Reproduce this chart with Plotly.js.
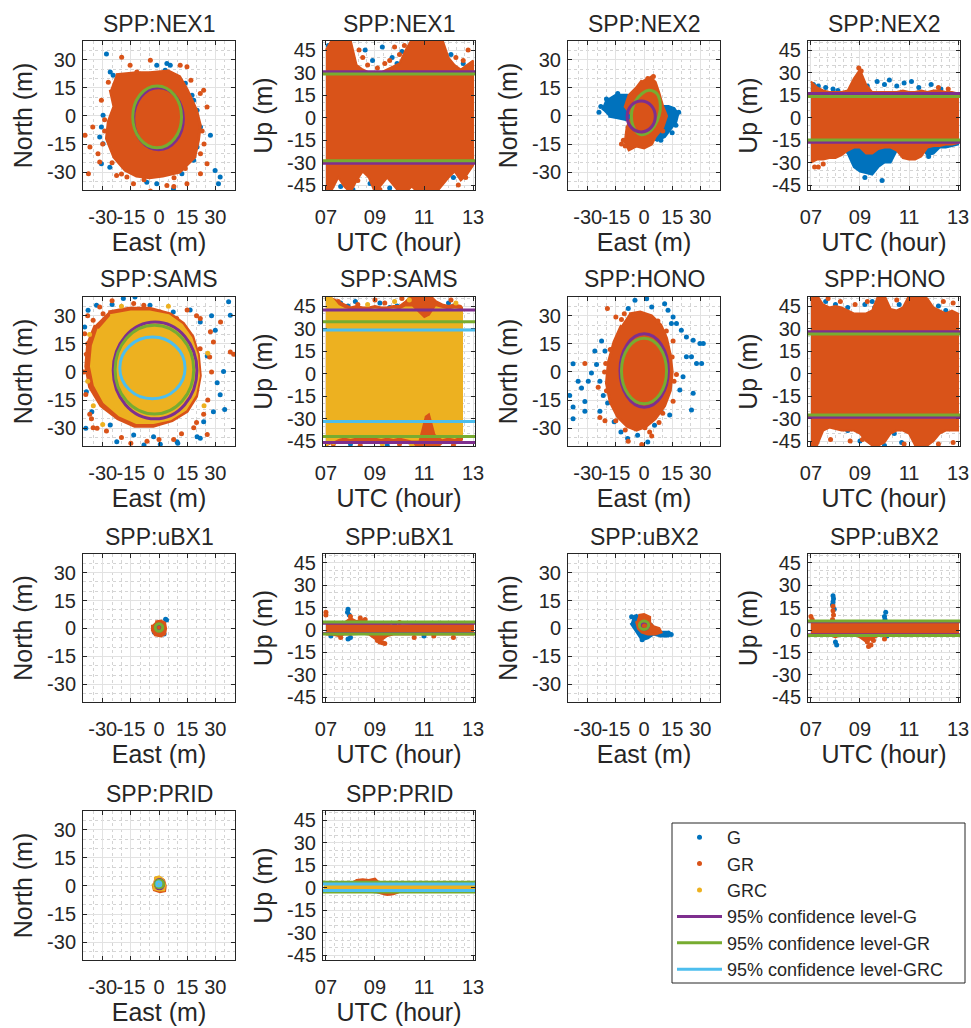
<!DOCTYPE html>
<html><head><meta charset="utf-8">
<script src="https://cdn.plot.ly/plotly-3.0.1.min.js"></script>
<style>html,body{margin:0;padding:0;background:#fff}#chart{width:971px;height:1028px}</style>
</head><body><div id="chart"></div>
<script>
// ================= DATA =================
const seriesNames = ['G','GR','GRC'];
const levelNames = {G:'95% confidence level-G', GR:'95% confidence level-GR', GRC:'95% confidence level-GRC'};
const enuTicks = [-30,-15,0,15,30];
const enuTickText = ['-30','-15','0','15','30'];
const upTicks = [-45,-30,-15,0,15,30,45];
const upTickText = ['-45','-30','-15','0','15','30','45'];
const hourTicks = [7,9,11,13];
const hourTickText = ['07','09','11','13'];
const HRS = [7,7.25,7.5,7.75,8,8.25,8.5,8.75,9,9.25,9.5,9.75,10,10.25,10.5,10.75,11,11.25,11.5,11.75,12,12.25,12.5,12.75,13];

// ---- NEX1 ----
const nex1_GR_coreE = [-23,-12,-5,5,11,15,20,22,21,19,11,2,-5,-12,-18,-24,-28,-27,-24,-26];
const nex1_GR_coreN = [22,23,23,24,21,14,3,-5,-13,-22,-30,-32,-33,-32,-29,-22,-12,-3,5,14];
const nex1_G_ptsE = [-28,-26,-24.4,-22.6,-19.9,-1.2,4.2,6,3.3,11.3,14,17.6,18.5,20.3,22.1,27.4,20.3,15.9,18.5,11.3,12.2,-8.3,-6.5,-1.2,7.7,-30.7,-31.6,-29.8,-30.7,-26.2,-24.4,29.9,32.6,31.7,-29.8];
const nex1_G_ptsN = [33,23.5,21.7,18.1,19.9,27,28,27,24.4,19.2,17.4,11.1,8.4,3,-5.9,-10.3,-16.6,-20.1,-23.6,-27.1,-30.8,-30.8,-35.3,-36.2,-38.9,-5.9,-11.2,-14.8,-25.5,-27.3,-18.4,-29.1,-32.6,-36.2,0.4];
const nex1_GR_ptsE = [-39.4,-36.8,-37.6,-31.6,-32.5,-35.3,-30.7,-19.9,-15.4,-11.8,-4.6,11.3,14.9,23.8,25.6,22.1,25.6,22.1,14.9,4.2,-13.6,-17.1,-22.6,-4.6,7.9,-27,-29,-29,23,22,17,-8,8,-20,24,-30,-25,14];
const nex1_GR_ptsN = [-10.3,-16.5,-30.8,-24.6,-20.1,-5.9,8.4,31.3,27,23.5,29.7,27,26.2,13.7,4.8,-20.1,-25.5,-30.8,-36.2,-37.1,-36.2,-32.6,-31.7,-40,-37.6,18,-2,-8,-8,12,19,-34,-33,-31,-15,-15,-25,-28];
const nex1_ellG = [-13.5,13,-18,15];
const nex1_ellGR = [-14,12,-17,16];
const nex1_GR_hi = [45,52,52,52,52,35,32,30,30,30,32,34,36,45,52,52,52,52,52,52,40,35,32,35,38];
const nex1_GR_lo = [-50,-48,-40,-46,-50,-42,-36,-40,-50,-45,-40,-45,-50,-50,-46,-50,-50,-50,-50,-45,-40,-36,-42,-38,-32];
const nex1_G_sprT = [8.6,8.9,9.3,9.7,9.9,10.1,11.5,11.7,12.1,12.6,7.1,7.4,7.8,7.2,7.6,8.1,8.8,9.6,10.6,11.5,12.2,12.8,12.9];
const nex1_G_sprU = [45,38,47,40,36,44,49,45,42,36,48,50,50,-40,-46,-48,-44,-47,-45,-49,-40,-33,-30];
const nex1_GR_sprT = [8.5,8.7,9.1,9.6,10.0,10.2,12.3,12.8,12.6,8.3,9.2,12.4,12.7,8.35,9.4,9.8];
const nex1_GR_sprU = [40,35,33,38,42,48,40,45,38,-42,-48,-45,-40,45,36,47];
const nex1_lvlG = [30.5,-30.5];
const nex1_lvlGR = [29,-28.8];

// ---- NEX2 ----
const nex2_G_coreE = [-22,-20,-15,-9,-5,0,5,9,13,16,18,17,14,11,7,2,-4,-9,-14,-19];
const nex2_G_coreN = [3,8,11,11,10,8,6,5,5,4,1,-3,-7,-11,-13,-10,-5,-2,-1,0];
const nex2_GR_coreE = [3,6,8,10,12,10,6,4,0,-4,-8,-10,-9,-6,-10,-8,-4,-1];
const nex2_GR_coreN = [21,18,12,5,0,-6,-11,-15,-17,-16,-18,-14,-6,0,5,11,15,19];
const nex2_G_ptsE = [-23,-24,18.5,15,-14,9,-20,17];
const nex2_G_ptsN = [5,2,2,-9,12,-13,9,-5];
const nex2_GR_ptsE = [-10,-12,5,2,10,-11];
const nex2_GR_ptsN = [-16,-15,21,20,-8,-13];
const nex2_ellG = [-9,6,-8.5,8];
const nex2_GR_ellE = [5.5,7.5,8.7,8,5.5,2,-1.5,-4.5,-6.5,-6.5,-4.5,-1,2.5,5.5];
const nex2_GR_ellN = [13,11,6,0,-5.5,-9,-10,-8,-3,2.5,8,12,13.7,13];
const nex2_GR_hi = [24,20,18,17,17,17,18,26,32,22,17,17,17,17,17,18,17,17,18,17,18,18,17,17,16];
const nex2_GR_lo = [-30,-28,-28,-27,-27,-25,-22,-20,-20,-24,-24,-21,-20,-20,-22,-27,-28,-28,-26,-20,-19,-19,-18,-18,-17];
const nex2_G_hi = [20,18,17,16,16,16,17,20,25,20,16,16,16,16,16,16,16,16,16,16,16,16,16,16,15];
const nex2_G_lo = [-18,-18,-18,-18,-20,-20,-24,-33,-36,-37,-38,-33,-30,-30,-22,-20,-20,-22,-20,-25,-24,-20,-20,-19,-18];
const nex2_G_sprT = [7.1,7.3,7.6,7.9,8.1,9.3,9.7,10.0,10.2,10.5,10.8,11.1,11.4,11.9,9.9,9.2,11.8,12.3];
const nex2_G_sprU = [22,21,20,19,18,21,24,22,25,21,23,24,20,22,-42,-40,-26,19];
const nex2_GR_sprT = [7.15,7.3,8.95,9.05,12.2,12.6,7.5];
const nex2_GR_sprU = [-33,-33,33,31,20,19,-31];
const nex2_lvlG = [16,-16.5];
const nex2_lvlGR = [14,-15];

// ---- SAMS ----
const sams_GRC_coreE = [-26,-15,-5,5,12,17,20,21,19,14,6,-3,-12,-21,-29,-34,-36,-35,-32];
const sams_GRC_coreN = [30,32,32,30,25,18,9,-2,-12,-20,-25,-27,-27,-23,-16,-7,3,14,23];
const sams_GR_coreE = [-27,-16,-5,6,13,18,21,22,20,15,7,-3,-13,-22,-31,-37,-39,-38,-34];
const sams_GR_coreN = [32,34,34,31,26,19,9,-2,-13,-21,-26,-29,-29,-25,-18,-8,3,15,25];
const sams_G_ptsE = [-39.6,-37.8,-33.3,-19,-12.8,-4.8,7.6,16.6,22,30,37.1,38,34.4,32.6,29,23.8,20.3,9.6,0.7,-2.9,-13.5,-22.5,-26,-35.8,-38.7,-36.9,-31.6,-26,25.7,31,22,35,-39,10,-8,28,-25];
const sams_G_ptsN = [24,32.9,35.6,39.2,40,35.6,32,33,26.7,22.3,37.4,30.3,0.3,-12.2,-21.2,-26.5,-34.5,-37.2,-38.6,-34.5,-33.6,-37.2,-28.3,-21.2,-10.5,-1.6,16.2,21.4,8.5,-5.7,-35.4,-20,-30,-38,-39,30,36];
const sams_GR_ptsE = [-39.6,-38.7,-36.9,-35.1,21.9,29,38,39.8,23.8,18.5,7.8,-6.4,-13.5,-8.1,0.5,9.4,-31.6,-29.8,-35.1,25.7,-28,22,27.4,32.8,-39,-40,-38,-33,-20,-15,0,12,20,26,28,27,-25,15,20,-38,-36];
const sams_GR_ptsN = [20.4,9.5,-22.6,-29.7,12.4,16,10.7,9.5,-22.6,-29.7,-36,-36.9,36.5,35.6,32,28.5,34.7,31.1,27.6,-33.3,-31.5,28.5,21.4,26.7,-12,0,30,-30,-35,-38,-36,-33,-27,-15,0,8,38,33,30,15,-25];
const sams_GRC_ptsE = [-37,-38,-35,24,26,-20,5,-30];
const sams_GRC_ptsN = [20,-5,-18,-18,10,35,35,-28];
const sams_ellG = [-24.4,20.2,-25,26.6];
const sams_ellGR = [-23.4,18.5,-22.4,24.9];
const sams_ellGRC = [-20.9,13.9,-14.3,18.6];
const samsT = [7,7.25,7.5,7.75,8,8.25,8.5,8.75,9,9.25,9.5,9.75,10,10.25,10.5,10.75,11,11.25,11.5,11.75,12,12.25,12.5,12.55];
const sams_GR_hi = [50,50,48,46,44,45,44,44,45,44,44,45,45,48,52,52,52,52,48,46,45,46,45,44];
const sams_GR_lo = [-48,-46,-45,-46,-46,-45,-45,-46,-46,-46,-45,-46,-46,-46,-47,-48,-50,-50,-50,-46,-46,-47,-45,-44];
const sams_GRC_hi = [52,50,45,43,42,42,41,42,43,42,42,43,42,44,44,40,36,38,44,43,42,43,42,42];
const sams_GRC_lo = [-48,-45,-43,-42,-43,-42,-41,-42,-42,-43,-42,-43,-42,-43,-44,-44,-28,-25,-40,-43,-42,-43,-41,-41];
const sams_G_sprT = [7.9,8.2,8.6,9.2,9.6,9.9,10.3,10.6,12.0,12.2,8.0,9.5,11.5,7.6,11.2];
const sams_G_sprU = [45,48,40,47,44,45,47,42,47,45,-47,-48,-47,47,44];
const sams_GR_sprT = [7.5,7.6,8.3,9.0,9.4,10.1,12.1,7.3,8.4,9.1,10.0,12.2,12.4,7.45,8.1];
const sams_GR_sprU = [48,44,46,49,47,50,49,-47,-48,-40,-47,-48,-42,41,-44];
const sams_GRC_sprT = [7.05,7.2,8.7,9.8,10.4,12.3,7.3,9.3,10.5];
const sams_GRC_sprU = [50,48,46,48,49,47,-46,-47,-48];
const sams_lvlG = [42.3,-46];
const sams_lvlGR = [34.5,-42];
const sams_lvlGRC = [29,-32];

// ---- HONO ----
const hono_GR_coreE = [-8,-2,4,9,12,14,15,14,11,6,1,-4,-9,-14,-18,-20,-19,-16,-12];
const hono_GR_coreN = [31,32,30,25,18,9,0,-10,-18,-25,-29,-31,-29,-24,-16,-6,5,16,25];
const hono_G_ptsE = [-37.8,-39.6,-37.8,-37.8,-33.3,-31.5,-29.7,-28,-25.3,-23.5,-26.2,-21.7,-31.5,-23.5,-35.1,-22.6,-20.8,-4.8,1.4,-8.4,4.1,15.5,17.3,19.9,22.6,26.2,29.8,25.3,28,30.7,22.6,20.8,19.1,26.2,25.3,14.6,12.8,11,31.6,-15.9,-12.3,-8.7,-3.4,2,5.6,9.2,13.7,10.1,-19.4];
const hono_G_ptsN = [4.4,-12.5,-18.7,-24.9,-8.6,-15.7,-5,-0.5,4,-5,11.2,-12.5,-21,-21,-5,16.5,11.2,38.2,39.1,33.8,34.7,29.3,25.8,22.3,18.7,16.9,15.2,8.1,4.5,4.5,8.1,-2.5,-9.6,-11.4,-20.3,25.8,32.9,36.4,15.2,-26.6,-32,-35.5,-33.7,-37.3,-28.4,-21.2,-23,-15.7,-16.6];
const hono_GR_ptsE = [-19.5,-15,-10.5,-5.2,-20.4,-31.5,-24.4,-23.5,-20.8,-8.4,-1.2,4.1,0.5,15.5,17.3,15.5,11.9,7.4,-20,-21,-18,-12,16,15,10,-10,3,8,-15];
const hono_GR_ptsN = [33.8,29.3,31.1,30.2,4.5,4.5,-8.2,-24.3,-26,-36.9,-38.7,-34.2,-29.7,-15.6,-1.3,16.5,21.8,27.2,-10,0,12,28,-5,8,-22,-31,-32,-27,-26];
const hono_ellG = [-12.8,13,-18.8,20.4];
const hono_ellGR = [-12,12,-17,18];
const hono_GR_hi = [50,52,46,44,45,44,42,40,40,40,42,52,52,43,42,44,52,52,52,50,44,42,40,42,40];
const hono_GR_lo = [-50,-48,-38,-36,-37,-38,-38,-38,-40,-45,-48,-48,-46,-40,-38,-38,-40,-48,-50,-48,-45,-40,-38,-38,-38];
const hono_G_sprT = [8.0,8.5,9.2,9.5,9.6,10.6,11.3,11.6,12.2,12.5,7.6,8.2,8.5,9.0,9.6,9.8,10.0,10.4,10.7,11.3,11.6,10.2,8.3];
const hono_G_sprU = [46,44,46,48,44,46,50,49,45,42,48,-32,-38,-45,-48,-44,-48,-40,-46,-46,-50,-25,-30];
const hono_GR_sprT = [7.7,8.2,8.8,9.3,10.5,12.4,12.8,7.8,8.6,10.8,12.8,9.1,12.2];
const hono_GR_sprU = [50,48,46,48,49,48,47,-44,-45,-47,-46,-44,-47];
const hono_lvlG = [27.9,-29.2];
const hono_lvlGR = [26.3,-27.7];

// ---- uBX1 ----
const ubx1_GR_coreE = [-2,1,3,3.5,3,1,-2,-3.5,-3.5];
const ubx1_GR_coreN = [3.5,4,3,0,-3,-4,-3.5,-1,2];
const ubx1_G_ptsE = [3.5,2.7,4,-2.5];
const ubx1_G_ptsN = [5,-3,4.5,-2];
const ubx1_ellG = [-1.8,1.8,-1.3,2.3];
const ubx1_ellGR = [-2,2,-1.5,2.5];
const ubx1_GR_hi = [5,4,4,5,8,6,7,5,4,3.5,3.5,3,3,3.5,3.5,3.5,3.5,4,4,4.5,4,3.5,4,4,4];
const ubx1_GR_lo = [-3,-3,-4,-3,-3,-3,-2.5,-3,-6,-7,-4,-3,-3,-3,-3,-3.5,-3,-3,-3.5,-3,-3,-3,-3,-3,-3];
const ubx1_GR_sprT = [7.0,7.0,8.0,8.4,8.6,9.2,9.4,9.1,7.6,10.6,11.4,12.2,10.0,11.7,9.3];
const ubx1_GR_sprU = [12,10,9,8,7,-8,-9,-7,-5,-5,-4,-5,5,4,-8.5];
const ubx1_G_sprT = [7.9,7.88,7.95,7.9,7.2,10.9,11.6,9.8,11.0,8.0];
const ubx1_G_sprU = [14,12,10,-6,-4,3,4.5,4,-4,-5];
const ubx1_lvlG = [4.6,-2.4];
const ubx1_lvlGR = [5.4,-2.6];

// ---- uBX2 ----
const ubx2_G_coreE = [-6,-4,-1,2,4,6,9,12,14,13,9,5,2,-1,-3,-5,-7];
const ubx2_G_coreN = [6,7,5,3,2,-1,-2,-2,-3,-4,-4,-3,-5,-6,-3,0,3];
const ubx2_GR_coreE = [-3,0,3,3,5,8,9,6,2,-1,-3,-4];
const ubx2_GR_coreN = [7,7.5,6,3,1,0,-2,-3,-3,-2,0,4];
const ubx2_G_ptsE = [14.5,13,-6.6,-1];
const ubx2_G_ptsN = [-3.2,-2.5,6.3,-6];
const ubx2_ellG = [-2,2.5,-0.5,3.5];
const ubx2_ellGR = [-2.5,2.5,-0.5,4];
const ubx2_GR_hi = [7,5,4,4.5,6,6,5,5.5,5,4,4,4,4,4,4,4,4,4,4,4.5,4,4,4,4,4];
const ubx2_GR_lo = [-3,-3,-3,-3,-5,-3,-3,-3,-5,-8,-6,-4,-3,-4,-3,-3,-3,-3,-3,-3,-3,-3,-3,-3,-3];
const ubx2_GR_sprT = [7.9,7.9,7.92,7.88,9.35,9.45,9.3,9.55,7.0,10.0,8.4,7.05];
const ubx2_GR_sprU = [16,13,10,7,-11,-10,-8,-7,9,-6,5,7];
const ubx2_G_sprT = [7.9,7.92,7.9,7.88,7.95,8.05,8.0,10.05,10.0,10.02,11.8,10.1,10.3];
const ubx2_G_sprU = [23,21,19,17,14,-10,-8,12,9,7,-3,-4,2.5];
const ubx2_lvlG = [5.5,-3.2];
const ubx2_lvlGR = [6,-3.7];

// ---- PRID ----
const prid_G_coreE = [-2,0,2,3,2.5,0,-2,-3];
const prid_G_coreN = [3.5,4,3,0.5,-1.5,-2,-1.5,1];
const prid_GR_coreE = [-2.5,0,2.5,3.3,3,0.5,-2.5,-3.2];
const prid_GR_coreN = [4,4.5,3,0,-2.5,-3,-2,1];
const prid_GRC_coreE = [-2.5,0,2,3,2.5,0,-2.5,-3];
const prid_GRC_coreN = [4,4.8,3.5,0.5,-2,-2.2,-1.5,1.5];
const prid_ellG = [-2,2.5,-1.5,3.5];
const prid_ellGR = [-2,2.5,-1,3];
const prid_ellGRC = [-1.2,1,0,2.2];
const prid_G_hi = [2.5,2.5,2.5,2.5,2.5,3,3,3,3,2.5,2.5,2.5,2.5,2.5,2.5,2.5,2.5,2.5,2.5,3,2.5,2.5,2.5,2.5,2.5];
const prid_G_lo = [-2.5,-2.5,-2.5,-2.5,-2.5,-2.5,-2.5,-2.5,-3,-3.5,-4,-3.5,-3,-2.5,-2.5,-2.5,-2.5,-2.5,-2.5,-2.5,-2.5,-2.5,-2.5,-2.5,-2.5];
const prid_GR_hi = [2,2,2,2,2.5,5,5.5,5,6,2,2,2,2,2,2,2,2,2,2,3,2,2,2,2,2];
const prid_GR_lo = [-2.5,-2.5,-2.5,-2.5,-2.5,-2.5,-2.5,-2.5,-2.5,-4,-5,-4.5,-3,-2.5,-2.5,-2.5,-2.5,-2.5,-2.5,-2.5,-2.5,-2.5,-2.5,-2.5,-2.5];
const prid_GRC_hi = [1,1,1,1,1,1,1,1,1,1,1,1,1,1,1,1,1,1,1,1,1,1,1,1,1];
const prid_GRC_lo = [-1,-1,-1,-1,-1,-1,-1,-1,-1,-1,-1,-1,-1,-1,-1,-1,-1,-1,-1,-1,-1,-1,-1,-1,-1];
const prid_GRC_sprT = [7.0,7.02,12.98,13.0];
const prid_GRC_sprU = [0,0.5,0,0.5];
const prid_lvlG = [3.2,-2.6];
const prid_lvlGR = [3.5,-3.0];
const prid_lvlGRC = [2.3,-2.0];

// ================= STYLE / LAYOUT =================
const W = 971, H = 1028;
const FONT = 'Liberation Sans, Arial, Helvetica, sans-serif';
const TXT = '#262626';
const dotCol = {G:'#0072BD', GR:'#D95319', GRC:'#EDB120'};
const lineCol = {G:'#7E2F8E', GR:'#77AC30', GRC:'#4DBEEE'};
const colPx = [[83,235],[323,475],[568,720],[808,960]];
const rowPx = [[41,190],[297,446],[554,702],[811,960]];
const legendBoxPx = [672,823,965,983];

const P = [
 {title:'SPP:NEX1', kind:'h', r:0, c:0,
  layers:[['G','pts',nex1_G_ptsE,nex1_G_ptsN],['GR','core',nex1_GR_coreE,nex1_GR_coreN],['GR','pts',nex1_GR_ptsE,nex1_GR_ptsN]],
  ell:[['G',nex1_ellG],['GR',nex1_ellGR]]},
 {title:'SPP:NEX1', kind:'u', r:0, c:1,
  layers:[['G','pts',nex1_G_sprT,nex1_G_sprU],['GR','band',HRS,nex1_GR_hi,nex1_GR_lo],['GR','pts',nex1_GR_sprT,nex1_GR_sprU]],
  lvl:[['G',nex1_lvlG],['GR',nex1_lvlGR]]},
 {title:'SPP:NEX2', kind:'h', r:0, c:2,
  layers:[['G','core',nex2_G_coreE,nex2_G_coreN],['G','pts',nex2_G_ptsE,nex2_G_ptsN],['GR','core',nex2_GR_coreE,nex2_GR_coreN],['GR','pts',nex2_GR_ptsE,nex2_GR_ptsN],['GR','ring',nex2_GR_ellE,nex2_GR_ellN]],
  ell:[['G',nex2_ellG]]},
 {title:'SPP:NEX2', kind:'u', r:0, c:3,
  layers:[['G','band',HRS,nex2_G_hi,nex2_G_lo],['G','pts',nex2_G_sprT,nex2_G_sprU],['GR','band',HRS,nex2_GR_hi,nex2_GR_lo],['GR','pts',nex2_GR_sprT,nex2_GR_sprU]],
  lvl:[['G',nex2_lvlG],['GR',nex2_lvlGR]]},
 {title:'SPP:SAMS', kind:'h', r:1, c:0,
  layers:[['G','pts',sams_G_ptsE,sams_G_ptsN],['GR','core',sams_GR_coreE,sams_GR_coreN],['GR','pts',sams_GR_ptsE,sams_GR_ptsN],['GRC','core',sams_GRC_coreE,sams_GRC_coreN],['GRC','pts',sams_GRC_ptsE,sams_GRC_ptsN]],
  ell:[['G',sams_ellG],['GR',sams_ellGR],['GRC',sams_ellGRC]]},
 {title:'SPP:SAMS', kind:'u', r:1, c:1,
  layers:[['G','pts',sams_G_sprT,sams_G_sprU],['GR','band',samsT,sams_GR_hi,sams_GR_lo],['GR','pts',sams_GR_sprT,sams_GR_sprU],['GRC','band',samsT,sams_GRC_hi,sams_GRC_lo],['GRC','pts',sams_GRC_sprT,sams_GRC_sprU]],
  lvl:[['G',sams_lvlG],['GR',sams_lvlGR],['GRC',sams_lvlGRC]]},
 {title:'SPP:HONO', kind:'h', r:1, c:2,
  layers:[['G','pts',hono_G_ptsE,hono_G_ptsN],['GR','core',hono_GR_coreE,hono_GR_coreN],['GR','pts',hono_GR_ptsE,hono_GR_ptsN]],
  ell:[['G',hono_ellG],['GR',hono_ellGR]]},
 {title:'SPP:HONO', kind:'u', r:1, c:3,
  layers:[['G','pts',hono_G_sprT,hono_G_sprU],['GR','band',HRS,hono_GR_hi,hono_GR_lo],['GR','pts',hono_GR_sprT,hono_GR_sprU]],
  lvl:[['G',hono_lvlG],['GR',hono_lvlGR]]},
 {title:'SPP:uBX1', kind:'h', r:2, c:0,
  layers:[['G','pts',ubx1_G_ptsE,ubx1_G_ptsN],['GR','core',ubx1_GR_coreE,ubx1_GR_coreN]],
  ell:[['G',ubx1_ellG],['GR',ubx1_ellGR]]},
 {title:'SPP:uBX1', kind:'u', r:2, c:1,
  layers:[['G','pts',ubx1_G_sprT,ubx1_G_sprU],['GR','band',HRS,ubx1_GR_hi,ubx1_GR_lo],['GR','pts',ubx1_GR_sprT,ubx1_GR_sprU]],
  lvl:[['G',ubx1_lvlG],['GR',ubx1_lvlGR]]},
 {title:'SPP:uBX2', kind:'h', r:2, c:2,
  layers:[['G','core',ubx2_G_coreE,ubx2_G_coreN],['G','pts',ubx2_G_ptsE,ubx2_G_ptsN],['GR','core',ubx2_GR_coreE,ubx2_GR_coreN]],
  ell:[['G',ubx2_ellG],['GR',ubx2_ellGR]]},
 {title:'SPP:uBX2', kind:'u', r:2, c:3,
  layers:[['G','pts',ubx2_G_sprT,ubx2_G_sprU],['GR','band',HRS,ubx2_GR_hi,ubx2_GR_lo],['GR','pts',ubx2_GR_sprT,ubx2_GR_sprU]],
  lvl:[['G',ubx2_lvlG],['GR',ubx2_lvlGR]]},
 {title:'SPP:PRID', kind:'h', r:3, c:0,
  layers:[['G','core',prid_G_coreE,prid_G_coreN],['GR','core',prid_GR_coreE,prid_GR_coreN],['GRC','core',prid_GRC_coreE,prid_GRC_coreN]],
  ell:[['G',prid_ellG],['GR',prid_ellGR],['GRC',prid_ellGRC]]},
 {title:'SPP:PRID', kind:'u', r:3, c:1,
  layers:[['G','band',HRS,prid_G_hi,prid_G_lo],['GR','band',HRS,prid_GR_hi,prid_GR_lo],['GRC','band',HRS,prid_GRC_hi,prid_GRC_lo],['GRC','pts',prid_GRC_sprT,prid_GRC_sprU]],
  lvl:[['G',prid_lvlG],['GR',prid_lvlGR],['GRC',prid_lvlGRC]]}
];

const rank = {G:1, GR:2, GRC:3};
const traces = [], shapes = [], annotations = [];
const layout = {
  width: W, height: H, margin:{l:0,r:0,t:0,b:0},
  paper_bgcolor:'#ffffff', plot_bgcolor:'#ffffff',
  font:{family:FONT, color:TXT, size:20},
  showlegend:true,
  legend:{x:legendBoxPx[0]/W, y:1-(legendBoxPx[1]-4)/H, xanchor:'left', yanchor:'top', bgcolor:'rgba(0,0,0,0)',
          borderwidth:0, font:{family:FONT, size:18, color:TXT},
          traceorder:'normal', tracegroupgap:0, itemwidth:45, itemsizing:'trace'}
};
const legendDone = {};

function axisBase(){
  return {showline:true, linecolor:TXT, linewidth:1, mirror:'all', ticks:'inside', ticklen:4,
    tickcolor:TXT, tickfont:{family:FONT, size:20, color:TXT}, showgrid:true, gridcolor:'#e2e2e2',
    gridwidth:1, zeroline:false, tickangle:0, fixedrange:true, automargin:false, tickmode:'array'};
}

P.forEach((p, i) => {
  const n = i + 1;
  const xa = n === 1 ? 'x' : 'x' + n, ya = n === 1 ? 'y' : 'y' + n;
  const [L, R] = colPx[p.c], [T, B] = rowPx[p.r];
  const xax = axisBase(), yax = axisBase();
  xax.domain = [L / W, R / W];
  yax.domain = [1 - B / H, 1 - T / H];
  xax.anchor = ya; yax.anchor = xa;
  xax.ticklabelstandoff = 9;
  yax.ticklabelstandoff = 2;
  const tfont = {family:FONT, size:25, color:TXT};
  if (p.kind === 'h') {
    xax.range = [-40.5, 40.5]; yax.range = [-39.5, 40];
    xax.tickvals = enuTicks; xax.ticktext = enuTickText;
    yax.tickvals = enuTicks; yax.ticktext = enuTickText;
    xax.minor = {tickmode:'linear', tick0:0, dtick:5, showgrid:true, gridcolor:'#d4d4d4', griddash:'dot', ticks:''};
    yax.minor = {tickmode:'linear', tick0:0, dtick:5, showgrid:true, gridcolor:'#d4d4d4', griddash:'dot', ticks:''};
    xax.title = {text:'East (m)', font:tfont, standoff:1};
    yax.title = {text:'North (m)', font:tfont, standoff:7};
  } else {
    xax.range = [6.88, 13.08]; yax.range = [-48.3, 51];
    xax.tickvals = hourTicks; xax.ticktext = hourTickText;
    yax.tickvals = upTicks; yax.ticktext = upTickText;
    xax.minor = {tickmode:'linear', tick0:7, dtick:1/3, showgrid:true, gridcolor:'#d4d4d4', griddash:'dot', ticks:''};
    yax.minor = {tickmode:'linear', tick0:0, dtick:5, showgrid:true, gridcolor:'#d4d4d4', griddash:'dot', ticks:''};
    xax.title = {text:'UTC (hour)', font:tfont, standoff:1};
    yax.title = {text:'Up (m)', font:tfont, standoff:7};
  }
  layout[n === 1 ? 'xaxis' : 'xaxis' + n] = xax;
  layout[n === 1 ? 'yaxis' : 'yaxis' + n] = yax;

  // subplot title
  annotations.push({text:p.title, xref:'paper', yref:'paper', x:(L + R) / 2 / W, y:1 - (T - 17.5) / H,
    xanchor:'center', yanchor:'middle', showarrow:false, font:{family:FONT, size:23, color:TXT}});

  // data layers (drawn in order G, GR, GRC)
  p.layers.forEach(ly => {
    const s = ly[0], type = ly[1], col = dotCol[s];
    const base = {type:'scatter', xaxis:xa, yaxis:ya, hoverinfo:'skip', showlegend:false};
    if (type === 'pts') {
      const tr = Object.assign({}, base, {mode:'markers', x:ly[2], y:ly[3], marker:{color:col, size:5}});
      if (!legendDone[s]) {
        legendDone[s] = true;
        Object.assign(tr, {showlegend:true, name:s, legendrank:rank[s]});
      }
      traces.push(tr);
    } else if (type === 'core') {
      traces.push(Object.assign({}, base, {mode:'lines', x:ly[2], y:ly[3], fill:'toself', fillcolor:col, line:{color:col, width:3}}));
    } else if (type === 'band') {
      const t = ly[2], hi = ly[3], lo = ly[4];
      traces.push(Object.assign({}, base, {mode:'lines', x:t.concat(t.slice().reverse()), y:hi.concat(lo.slice().reverse()),
        fill:'toself', fillcolor:col, line:{color:col, width:2}}));
    } else if (type === 'ring') {
      traces.push(Object.assign({}, base, {mode:'lines', x:ly[2], y:ly[3], line:{color:lineCol[s], width:3, shape:'spline', smoothing:1}}));
    }
  });

  // confidence ellipses
  (p.ell || []).forEach(e => {
    const s = e[0], v = e[1];
    shapes.push({type:'circle', xref:xa, yref:ya, x0:v[0], x1:v[1], y0:v[2], y1:v[3], line:{color:lineCol[s], width:3}});
  });
  // confidence levels (Up)
  (p.lvl || []).forEach(e => {
    const s = e[0];
    e[1].forEach(val => {
      const sh = {type:'line', xref:xa + ' domain', yref:ya, x0:0, x1:1, y0:val, y1:val, line:{color:lineCol[s], width:3}};
      if (!legendDone['L' + s]) {
        legendDone['L' + s] = true;
        Object.assign(sh, {showlegend:true, name:levelNames[s], legendrank:3 + rank[s]});
      }
      shapes.push(sh);
    });
  });
});

// legend frame
shapes.push({type:'rect', xref:'paper', yref:'paper',
  x0:legendBoxPx[0]/W, x1:legendBoxPx[2]/W, y0:1-legendBoxPx[3]/H, y1:1-legendBoxPx[1]/H,
  line:{color:TXT, width:1}, fillcolor:'rgba(0,0,0,0)'});

layout.shapes = shapes;
layout.annotations = annotations;
Plotly.newPlot('chart', traces, layout, {staticPlot:true, displayModeBar:false});
</script>
</body></html>
